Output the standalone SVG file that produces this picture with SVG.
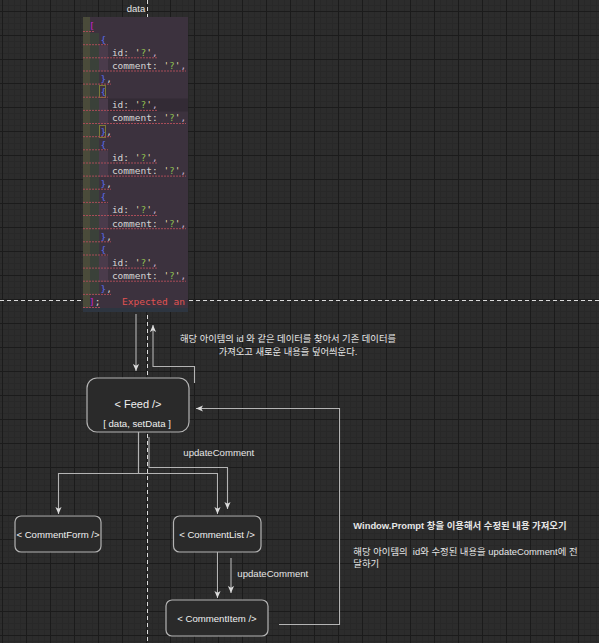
<svg xmlns="http://www.w3.org/2000/svg" width="599" height="643" viewBox="0 0 599 643">
<style>
.node{fill:#2a2a2a;stroke:#b4b4b4;stroke-width:1.2}
.lbl{font-family:"Liberation Sans","Noto Sans CJK KR",sans-serif;fill:#e6e6e6}
.nt{font-family:"Liberation Sans","Noto Sans CJK KR",sans-serif;fill:#f0f0f0;text-anchor:middle}
.edge{fill:none;stroke:#b4b4b4;stroke-width:1.1}
.dash{fill:none;stroke:#dcdcdc;stroke-width:1;stroke-dasharray:4 3}
.code{font-family:"DejaVu Sans Mono","Liberation Mono",monospace;font-size:9.5px}
.k{fill:#d4d4d4}.q{fill:#e0d6b0}.s{fill:#8fc050}.c{fill:#c8b4d0}
.br{fill:#cc22cc}.cb{fill:#5a6cf0}.err{fill:#e05252}
.sq{stroke:#a84c58;stroke-width:1;stroke-dasharray:2 1}
</style>
<defs>
<pattern id="grid" width="24" height="24" patternUnits="userSpaceOnUse" x="2" y="11">
<rect width="24" height="24" fill="#2c2c2c"/>
<path d="M6.5,0V24M12.5,0V24M18.5,0V24M0,6.5H24M0,12.5H24M0,18.5H24" stroke="#282828" stroke-width="1"/>
<path d="M0.5,0V24M0,0.5H24" stroke="#1b1b1b" stroke-width="1"/>
</pattern>
<marker id="arr" viewBox="0 0 8 8" refX="8" refY="4" markerWidth="7" markerHeight="7" markerUnits="userSpaceOnUse" orient="auto">
<path d="M0,0.5L8,4L0,7.5L2,4z" fill="#dcdcdc"/>
</marker>
</defs>
<rect width="599" height="643" fill="url(#grid)"/>

<g id="guides">
<path class="dash" d="M0,300.5H599"/>
<path class="dash" d="M147.5,0V643"/>
</g>

<g id="data-label">
<text class="lbl" x="136" y="11.5" font-size="9.5" text-anchor="middle">data</text>
</g>

<g id="code-image" xml:space="preserve">
<rect x="83" y="17" width="105" height="295" fill="#3c323e"/>
<rect x="83" y="98.5" width="105" height="13" fill="#332b35"/>
<rect x="83" y="17" width="7" height="291" fill="#4a4b3a"/>
<rect x="90" y="33" width="9" height="262" fill="#3a4139"/>
<g fill="#4a3b4b">
<rect x="99" y="45.5" width="9" height="26"/>
<rect x="99" y="98.5" width="9" height="26"/>
<rect x="99" y="151" width="9" height="26"/>
<rect x="99" y="203.5" width="9" height="26"/>
<rect x="99" y="256" width="9" height="26"/>
</g>
<rect x="83" y="308" width="105" height="4" fill="#2d3540"/>
<g fill="none" stroke="#7a7a36" stroke-width="1">
<rect x="99.5" y="85.5" width="6" height="12"/>
<rect x="99.5" y="125.5" width="6" height="12"/>
</g>
<g class="sq">
<path d="M83,31.5H95M83,44.7H108M83,57.8H157M83,71H186M83,84.1H111M83,97.2H108M83,110.4H157M83,123.5H186M83,136.7H111M83,149.8H108M83,163H157M83,176.1H186M83,189.2H111M83,202.4H108M83,215.5H157M83,228.7H186M83,241.8H111M83,255H108M83,268.1H157M83,281.2H186M83,294.4H111M83,307.5H100"/>
</g>
<g class="code">
<text x="89" y="29.4" class="br">[</text>
<text x="100.4" y="42.5" class="cb">{</text>
<text x="111.9" y="55.7"><tspan class="k">id: </tspan><tspan class="q">'</tspan><tspan class="s">?</tspan><tspan class="q">'</tspan><tspan class="c">,</tspan></text>
<text x="111.9" y="68.8"><tspan class="k">comment: </tspan><tspan class="q">'</tspan><tspan class="s">?</tspan><tspan class="q">'</tspan><tspan class="c">,</tspan></text>
<text x="100.4" y="82"><tspan class="cb">}</tspan><tspan class="k">,</tspan></text>
<text x="100.4" y="95.1" class="cb">{</text>
<text x="111.9" y="108.2"><tspan class="k">id: </tspan><tspan class="q">'</tspan><tspan class="s">?</tspan><tspan class="q">'</tspan><tspan class="c">,</tspan></text>
<text x="111.9" y="121.4"><tspan class="k">comment: </tspan><tspan class="q">'</tspan><tspan class="s">?</tspan><tspan class="q">'</tspan><tspan class="c">,</tspan></text>
<text x="100.4" y="134.5"><tspan class="cb">}</tspan><tspan class="k">,</tspan></text>
<text x="100.4" y="147.7" class="cb">{</text>
<text x="111.9" y="160.8"><tspan class="k">id: </tspan><tspan class="q">'</tspan><tspan class="s">?</tspan><tspan class="q">'</tspan><tspan class="c">,</tspan></text>
<text x="111.9" y="174"><tspan class="k">comment: </tspan><tspan class="q">'</tspan><tspan class="s">?</tspan><tspan class="q">'</tspan><tspan class="c">,</tspan></text>
<text x="100.4" y="187.1"><tspan class="cb">}</tspan><tspan class="k">,</tspan></text>
<text x="100.4" y="200.2" class="cb">{</text>
<text x="111.9" y="213.4"><tspan class="k">id: </tspan><tspan class="q">'</tspan><tspan class="s">?</tspan><tspan class="q">'</tspan><tspan class="c">,</tspan></text>
<text x="111.9" y="226.5"><tspan class="k">comment: </tspan><tspan class="q">'</tspan><tspan class="s">?</tspan><tspan class="q">'</tspan><tspan class="c">,</tspan></text>
<text x="100.4" y="239.7"><tspan class="cb">}</tspan><tspan class="k">,</tspan></text>
<text x="100.4" y="252.8" class="cb">{</text>
<text x="111.9" y="266"><tspan class="k">id: </tspan><tspan class="q">'</tspan><tspan class="s">?</tspan><tspan class="q">'</tspan><tspan class="c">,</tspan></text>
<text x="111.9" y="279.1"><tspan class="k">comment: </tspan><tspan class="q">'</tspan><tspan class="s">?</tspan><tspan class="q">'</tspan><tspan class="c">,</tspan></text>
<text x="100.4" y="292.2"><tspan class="cb">}</tspan><tspan class="k">,</tspan></text>
<text x="89" y="305.4"><tspan class="br">]</tspan><tspan class="k">;</tspan></text>
<text x="122" y="305.4" class="err">Expected an</text>
</g>
</g>

<g id="connectors">
<path class="edge" d="M136,314V371" marker-end="url(#arr)"/>
<path class="edge" d="M194.5,383V366.5H153V325" marker-end="url(#arr)"/>
<path class="edge" d="M279,624.5H339.5V408.5H196" marker-end="url(#arr)"/>
<path class="edge" d="M138.5,432V473.5H58.5V514" marker-end="url(#arr)"/>
<path class="edge" d="M138.5,432V473.5H217.5V514" marker-end="url(#arr)"/>
<path class="edge" d="M149,437V467.5H227.5V509" marker-end="url(#arr)"/>
<path class="edge" d="M217.5,552V598" marker-end="url(#arr)"/>
<path class="edge" d="M231,558V593" marker-end="url(#arr)"/>
</g>

<g id="edge-labels">
<text class="lbl" x="288" y="341.5" font-size="9.3" text-anchor="middle">해당 아이템의 id 와 같은 데이터를 찾아서 기존 데이터를</text>
<text class="lbl" x="288" y="354.5" font-size="9.3" text-anchor="middle">가져오고 새로운 내용을 덮어씌운다.</text>
<text class="lbl" x="183.3" y="456" font-size="9.6">updateComment</text>
<text class="lbl" x="237.3" y="576.5" font-size="9.6">updateComment</text>
</g>

<g id="feed">
<rect class="node" x="87" y="378" width="102" height="54" rx="10"/>
<text class="nt" x="138" y="408" font-size="11">&lt; Feed /&gt;</text>
<text class="nt" x="137" y="426.5" font-size="9.6">[ data, setData ]</text>
</g>

<g id="comment-form">
<rect class="node" x="15" y="516" width="86" height="36" rx="6"/>
<text class="nt" x="58" y="537.5" font-size="9.6">&lt; CommentForm /&gt;</text>
</g>

<g id="comment-list">
<rect class="node" x="173.5" y="516" width="87.5" height="36" rx="6"/>
<text class="nt" x="217" y="537.5" font-size="9.6">&lt; CommentList /&gt;</text>
</g>

<g id="comment-item">
<rect class="node" x="166" y="600" width="102" height="36" rx="6"/>
<text class="nt" x="217" y="621.5" font-size="9.6">&lt; CommentItem /&gt;</text>
</g>

<g id="note">
<text class="lbl" x="353.3" y="528.5" font-size="9.4" font-weight="bold">Window.Prompt 창을 이용해서 수정된 내용 가져오기</text>
<text class="lbl" x="353.3" y="555" font-size="9.4" xml:space="preserve">해당 아이템의  id와 수정된 내용을 updateComment에 전</text>
<text class="lbl" x="353.3" y="567" font-size="9.4">달하기</text>
</g>
</svg>
